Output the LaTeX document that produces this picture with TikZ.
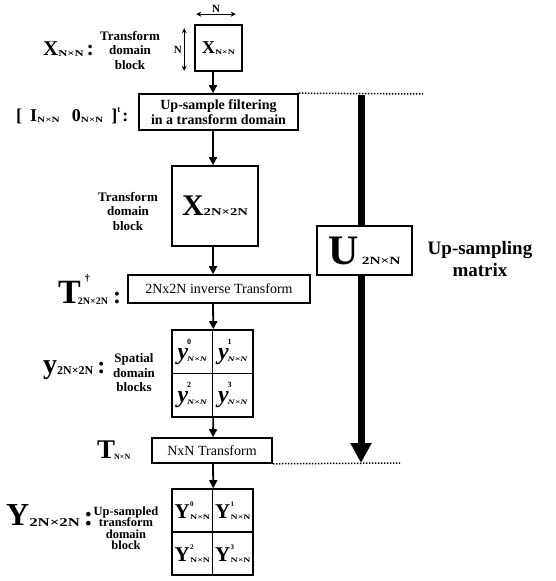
\documentclass[tikz,border=0pt]{standalone}
\usepackage{fontspec}
\setmainfont{Liberation Serif}
\newfontfamily\wf[FakeStretch=1.4]{Liberation Serif}
\usetikzlibrary{arrows.meta,calc}
\newcommand\fs[1]{\fontsize{#1}{#1}\selectfont}
\newcommand\lowsub[3]{\raisebox{-#1pt}{\wf\fs{#2}#3}}
\newcommand\ycell[1]{{\fs{24}\itshape y}\hspace{-1pt}\makebox[0pt][l]{\raisebox{15pt}{\fs{8}#1}}\raisebox{-2pt}{\wf\fs{7}\itshape N×N}}
\newcommand\Ycell[1]{{\fs{21}Y}\hspace{0.5pt}\makebox[0pt][l]{\raisebox{12pt}{\fs{7}#1}}\raisebox{-1pt}{\wf\fs{7}N×N}}
\begin{document}
\begin{tikzpicture}[x=1pt,y=-1pt,font=\bfseries,
  box/.style={draw,line width=1.6pt,fill=white,inner sep=0pt},
  cell/.style={draw,line width=1.6pt,inner sep=0pt,minimum width=40.5pt},
  flow/.style={line width=1.8pt,-{Triangle[width=8pt,length=8pt]}},
  dimarrow/.style={line width=0.8pt,{Stealth[length=5pt,width=5pt]}-{Stealth[length=5pt,width=5pt]}},
  dots/.style={line width=1.5pt,dash pattern=on 1.5pt off 1.5pt},
  lbl/.style={inner sep=0pt,anchor=base west},
  small/.style={inner sep=0pt,align=center,font=\bfseries\fontsize{13}{14.5}\selectfont}]
\fill[white] (0,0) rectangle (555,581);
\useasboundingbox (0,0) rectangle (555,581);
\coordinate (col) at (213,0);
% main column
\node[box,minimum width=47pt,minimum height=46pt] (xn) at (218.5,48) {\fs{18}X\lowsub{1}{7}{N×N}};
\node[box,minimum width=159pt,minimum height=36pt,align=center,font=\bfseries\fontsize{14}{15}\selectfont] (up) at (218.5,112) {Up-sample filtering\\in a transform domain};
\node[box,minimum width=86pt,minimum height=80pt] (X2) at (215,206) {\fs{30}X\lowsub{0}{10.5}{2N×2N}};
\node[box,minimum width=182pt,minimum height=28pt,font=\fs{14}] (inv) at (219,289) {2Nx2N inverse Transform};
\node[cell,minimum height=43.5pt] (y0) at (192.25,351.75) {\ycell{0}};
\node[cell,minimum height=43.5pt] (y1) at (232.75,351.75) {\ycell{1}};
\node[cell,minimum height=43.5pt] (y2) at (192.25,395.25) {\ycell{2}};
\node[cell,minimum height=43.5pt] (y3) at (232.75,395.25) {\ycell{3}};
\node[box,minimum width=120pt,minimum height=25pt,font=\fs{14}] (nxn) at (212,450.5) {NxN Transform};
\node[cell,minimum height=43pt] (Y0) at (192.25,510.5) {\Ycell{0}};
\node[cell,minimum height=43pt] (Y1) at (232.75,510.5) {\Ycell{1}};
\node[cell,minimum height=43pt] (Y2) at (192.25,553.5) {\Ycell{2}};
\node[cell,minimum height=43pt] (Y3) at (232.75,553.5) {\Ycell{3}};
% connectors
\draw[flow] (xn.south -| col) -- (up.north -| col);
\draw[flow] (up.south -| col) -- (X2.north -| col);
\draw[flow] (X2.south -| col) -- (inv.north -| col);
\draw[flow] (inv.south -| col) -- (y0.north east);
\draw[flow] (y2.south east) -- (nxn.north -| col);
\draw[flow] (nxn.south -| col) -- (Y0.north east);
% dimension arrows
\draw[dimarrow] ($(xn.north west)+(2,-10)$) -- ($(xn.north east)+(-7,-10)$) node[midway,above=1pt,inner sep=0pt,font=\bfseries\fs{11}] (nh) {N};
\draw[dimarrow] ($(xn.north west)+(-10,4)$) -- ($(xn.south west)+(-10,-1)$) node[midway,left=2pt,inner sep=0pt,font=\bfseries\fs{11}] (nv) {N};
% left labels
\node[lbl] (lx) at (43,55) {\fs{21}X\lowsub{1}{9}{N×N}\hspace{3pt}{\fs{22}:}};
\node[small] (lxd) at (130,50) {Transform\\domain\\block};
\node[lbl] (li) at (16,121) {\fs{18}[\hspace{8pt}I\lowsub{1}{8}{N×N}\hspace{12pt}0\lowsub{1}{8}{N×N}\hspace{8pt}]\raisebox{9pt}{\fs{9}t}\hspace{2pt}:};
\node[small] (lx2) at (128,211) {Transform\\domain\\block};
\node[lbl] (lt) at (58,303) {\fs{34}T\hspace{-3pt}\makebox[0pt][l]{\hspace{7pt}\raisebox{22pt}{\fs{10}†}}\raisebox{-1pt}{\fs{10}2N×2N}\hspace{5pt}{\fs{24}:}};
\node[lbl] (ly) at (43,373) {{\fs{28}y}\raisebox{-1pt}{\fs{12}2N×2N}\hspace{4pt}{\fs{24}:}};
\node[small] (lyd) at (134,373) {Spatial\\domain\\blocks};
\node[lbl] (ltn) at (97,458) {{\fs{27}T}\hspace{-1pt}\raisebox{-1pt}{\fs{8}N×N}};
\node[lbl] (lY) at (6,525) {{\fs{32}Y}\raisebox{-1pt}{\wf\fs{12}2N×2N}\hspace{4pt}{\fs{28}:}};
\node[small,font=\bfseries\fontsize{12.5}{11.5}\selectfont] (lYd) at (126,528) {Up-sampled\\transform\\domain\\block};
% up-sampling matrix
\coordinate (uT) at (361,95);
\coordinate (uB) at (361,463);
\coordinate (dT) at (423,94);
\coordinate (dB) at (400,463);
\draw[dots] (up.north east) -- (dT);
\draw[dots] (nxn.south east) -- (dB);
\draw[line width=7pt,-{Triangle[width=20pt,length=20pt]}] (uT) -- (uB);
\node[box,minimum width=95pt,minimum height=49pt] (U) at (364.5,250.5) {{\fs{42}U}\hspace{3pt}{\wf\fs{11}2N×N}};
\node[align=center,font=\bfseries\fontsize{19}{22}\selectfont] (um) at (480,259) {Up-sampling\\matrix};
\end{tikzpicture}
\end{document}
